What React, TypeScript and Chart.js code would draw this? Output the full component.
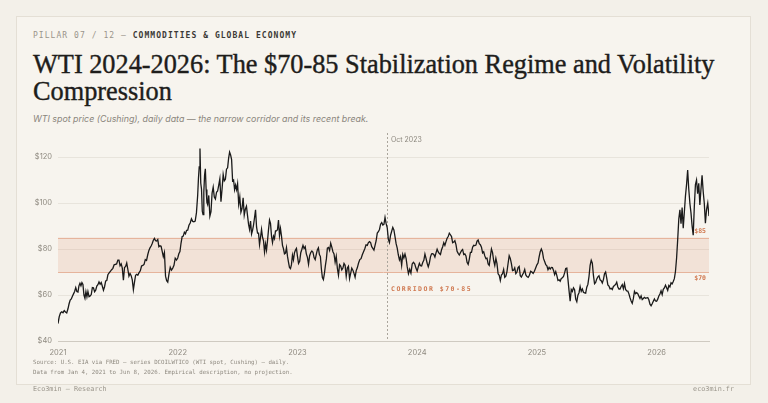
import React, { useEffect, useRef } from "react";
import { Chart, registerables } from "chart.js";

Chart.register(...registerables);

// ---------- DATA (WTI spot, $/bbl, ~twice-weekly samples, one sub-array per month) ----------
const yearStarts = [2021, 2022, 2023, 2024, 2025, 2026];

const wti2021: number[][] = [
  [47.6, 50.6, 52.2, 52.7, 52.3, 53.2, 52.6, 52.2],
  [54.0, 56.2, 57.8, 58.3, 59.5, 60.5, 61.5, 63.2, 61.5],
  [61.3, 64.0, 65.1, 64.0, 65.4, 64.6, 60.0, 58.6, 61.5, 59.2],
  [61.5, 59.3, 59.6, 60.2, 63.2, 63.1, 61.4, 62.1, 63.9],
  [64.5, 65.7, 64.7, 65.4, 63.8, 62.1, 63.6, 66.1, 66.3],
  [68.8, 69.6, 70.3, 71.0, 71.6, 73.1, 73.3, 73.5],
  [75.2, 75.2, 72.7, 73.5, 71.7, 66.4, 71.9, 72.4, 73.9],
  [71.2, 68.2, 69.3, 68.4, 66.6, 62.3, 65.6, 68.6, 69.0],
  [68.6, 69.7, 70.5, 72.6, 72.9, 73.3, 75.4, 75.0],
  [77.6, 79.4, 80.5, 81.3, 82.4, 83.8, 84.6, 83.6, 83.5],
  [84.1, 81.0, 81.4, 81.2, 79.0, 76.7, 78.5, 68.2, 66.2],
  [65.6, 69.2, 72.1, 70.8, 71.7, 72.9, 76.0, 75.2],
];

const wti2022: number[][] = [
  [76.1, 77.9, 78.9, 82.6, 85.4, 85.6, 87.3, 86.6, 88.1],
  [88.2, 90.3, 91.3, 93.1, 92.0, 91.8, 92.1, 95.7],
  [103.4, 110.6, 115.7, 123.7, 108.7, 106.0, 96.4, 95.0, 104.7, 112.1, 114.9, 105.9, 100.3],
  [99.3, 103.3, 94.3, 96.2, 104.3, 106.9, 102.6, 101.7, 104.7],
  [105.2, 107.8, 110.5, 100.6, 106.1, 112.4, 109.6, 110.3, 114.7],
  [115.3, 119.4, 122.1, 120.9, 118.9, 109.6, 110.0, 105.8, 107.8, 105.8],
  [108.4, 99.5, 102.7, 96.0, 97.6, 102.3, 94.7, 97.3, 98.6],
  [94.4, 90.7, 88.5, 92.1, 86.5, 88.1, 90.5, 93.7, 97.0, 89.6],
  [86.9, 86.9, 81.9, 85.1, 88.5, 85.1, 83.5, 78.7, 82.2, 79.5],
  [83.6, 88.4, 92.6, 91.1, 85.6, 82.8, 85.6, 84.5, 87.9, 87.9],
  [88.4, 92.6, 85.8, 88.9, 85.6, 81.6, 80.1, 77.9, 78.2, 80.6],
  [76.9, 74.3, 72.0, 71.5, 73.2, 77.3, 75.3, 78.3, 79.6, 80.3],
];

const wti2023: number[][] = [
  [76.9, 73.7, 74.6, 78.4, 79.9, 81.6, 80.2, 81.0, 77.9],
  [76.4, 73.4, 77.1, 78.5, 79.1, 78.6, 76.3, 75.4, 77.7],
  [79.7, 80.5, 77.6, 76.7, 71.3, 67.6, 66.7, 69.3, 72.8, 75.7],
  [80.4, 80.7, 79.4, 82.5, 80.8, 78.8, 77.9, 74.3, 76.8],
  [71.7, 68.6, 73.2, 72.6, 70.9, 71.7, 73.7, 72.9, 68.1],
  [71.7, 72.5, 67.1, 69.4, 71.7, 70.8, 69.4, 67.7, 70.6],
  [71.8, 73.9, 75.4, 75.8, 77.5, 78.8, 80.1, 81.8],
  [81.6, 82.8, 83.2, 82.8, 81.0, 80.3, 79.5, 81.6, 83.6],
  [86.9, 87.5, 88.5, 90.8, 91.5, 90.4, 90.7, 93.7, 91.0],
  [89.2, 84.2, 82.8, 86.0, 87.7, 89.4, 88.3, 85.4, 82.3],
  [80.4, 77.4, 75.3, 76.7, 72.9, 77.6, 76.1, 77.8, 75.9],
  [72.3, 69.3, 71.2, 69.5, 73.5, 74.2, 73.6, 71.7],
];

const wti2024: number[][] = [
  [70.4, 72.2, 73.8, 72.7, 72.6, 74.1, 75.1, 77.8, 75.9],
  [73.8, 72.3, 73.9, 76.6, 77.9, 78.0, 77.6, 76.5, 78.3],
  [79.9, 78.7, 78.0, 77.6, 79.7, 81.0, 82.7, 81.6, 83.2],
  [84.7, 85.4, 86.9, 86.2, 85.4, 82.7, 83.0, 83.6, 81.9],
  [79.0, 78.1, 77.4, 78.4, 79.3, 79.8, 77.6, 77.9, 77.0],
  [74.2, 73.3, 75.5, 78.5, 78.5, 80.8, 81.6, 81.5, 81.7],
  [83.4, 83.9, 82.3, 81.9, 80.8, 78.3, 78.8, 77.0, 75.8],
  [76.0, 73.5, 72.9, 76.7, 80.0, 78.4, 74.9, 72.9, 75.9],
  [73.6, 69.2, 68.6, 66.3, 68.7, 69.3, 71.1, 67.7, 68.2],
  [70.2, 73.7, 77.1, 75.9, 73.6, 70.6, 70.8, 71.8, 69.3],
  [70.0, 71.9, 72.4, 68.4, 67.8, 68.8, 69.7, 71.1, 68.7],
  [68.0, 67.7, 68.6, 70.3, 70.0, 69.4, 70.3, 71.7],
];

const wti2025: number[][] = [
  [73.1, 73.9, 76.6, 78.8, 80.0, 78.7, 75.8, 74.6, 73.2],
  [72.7, 71.0, 72.0, 71.3, 72.0, 71.9, 70.7, 68.9, 70.2],
  [68.4, 66.3, 66.6, 66.0, 67.2, 67.5, 68.1, 69.6, 71.5],
  [71.7, 66.9, 61.9, 57.3, 62.4, 61.6, 63.1, 62.3, 58.2],
  [57.1, 59.9, 61.0, 63.7, 61.6, 62.6, 61.2, 60.9, 60.8],
  [63.4, 64.6, 68.0, 72.9, 75.1, 73.8, 68.5, 64.9, 65.5],
  [67.0, 67.9, 68.4, 66.6, 66.2, 65.2, 66.7, 69.2, 70.0],
  [67.3, 64.4, 63.9, 62.7, 62.9, 62.4, 63.7, 64.1, 64.6],
  [65.6, 63.5, 62.6, 62.6, 63.7, 64.5, 62.7, 65.0, 62.4],
  [61.8, 61.7, 60.5, 58.8, 57.4, 56.4, 58.4, 61.6, 60.6],
  [61.0, 60.6, 59.5, 58.5, 59.6, 58.0, 58.5, 59.0, 58.6],
  [58.7, 58.9, 57.9, 56.0, 55.3, 56.2, 57.3, 58.3, 57.4],
];

const wti2026: number[][] = [
  [57.3, 58.2, 59.6, 60.4, 61.8, 60.2, 62.5, 63.1, 64.3],
  [63.2, 62.0, 64.1, 63.5, 65.3, 64.8, 65.9, 67.1, 70.2],
  [76.0, 84.0, 93.0, 97.0, 91.0, 98.0, 89.0, 96.0, 103.0],
  [108.0, 114.3, 106.0, 99.9, 95.7, 90.0, 86.0, 98.4, 108.0],
  [110.0, 104.0, 108.6, 99.1, 106.0, 112.0, 105.0, 99.9, 91.2],
  [97.0, 99.9, 94.3],
];

const wtiByYear = [wti2021, wti2022, wti2023, wti2024, wti2025, wti2026];

const yTickValues = [40, 60, 80, 100, 120];
const xTickYears = [2021, 2022, 2023, 2024, 2025, 2026];
const yMin = 40;
const yMax = 130;
const corridorLow = 70;
const corridorHigh = 85;
const markerValue = 2023 + 273 / 365; // 1 Oct 2023
const markerLabel = "Oct 2023";
const corridorLabel = "CORRIDOR $70-85";
const lastMonthSpan = 0.25; // series ends 8 Jun 2026

// ---------- build points ----------
const points: { x: number; y: number }[] = [];
wtiByYear.forEach((months, yi) => {
  const year = yearStarts[yi];
  months.forEach((vals, m) => {
    const isLast = yi === wtiByYear.length - 1 && m === months.length - 1;
    vals.forEach((v, k) => {
      const frac = isLast ? (k / (vals.length - 1)) * lastMonthSpan : k / vals.length;
      points.push({ x: year + (m + frac) / 12, y: v });
    });
  });
});
const xMax = points[points.length - 1].x;

const ORANGE = "#d07a52";

const overlayPlugin = {
  id: "overlay",
  beforeDatasetsDraw(chart: any) {
    const { ctx, chartArea: a, scales } = chart;
    const x = scales.x;
    const y = scales.y;
    const yh = y.getPixelForValue(corridorHigh);
    const yl = y.getPixelForValue(corridorLow);
    ctx.save();
    ctx.fillStyle = "rgba(210,120,80,0.14)";
    ctx.fillRect(a.left, yh, a.right - a.left, yl - yh);
    ctx.strokeStyle = "#e6b49c";
    ctx.lineWidth = 1;
    ctx.beginPath();
    ctx.moveTo(a.left, Math.round(yh) + 0.5);
    ctx.lineTo(a.right, Math.round(yh) + 0.5);
    ctx.moveTo(a.left, Math.round(yl) + 0.5);
    ctx.lineTo(a.right, Math.round(yl) + 0.5);
    ctx.stroke();
    const mx = Math.round(x.getPixelForValue(markerValue)) + 0.5;
    ctx.strokeStyle = "#aaa59c";
    ctx.setLineDash([2, 2]);
    ctx.beginPath();
    ctx.moveTo(mx, a.top - 1);
    ctx.lineTo(mx, a.bottom);
    ctx.stroke();
    ctx.restore();
  },
  afterDatasetsDraw(chart: any) {
    const { ctx, chartArea: a, scales } = chart;
    const x = scales.x;
    const y = scales.y;
    const yh = y.getPixelForValue(corridorHigh);
    const yl = y.getPixelForValue(corridorLow);
    const mx = x.getPixelForValue(markerValue);
    ctx.save();
    ctx.textBaseline = "middle";
    ctx.textAlign = "left";
    ctx.fillStyle = "#8c877e";
    ctx.font = "7px Inter";
    ctx.fillText(markerLabel, mx + 4, a.top + 6);
    ctx.fillStyle = ORANGE;
    ctx.font = "bold 6.5px 'DejaVu Sans Mono'";
    (ctx as any).letterSpacing = "1.5px";
    ctx.fillText(corridorLabel, mx + 4, yl + 17);
    (ctx as any).letterSpacing = "0px";
    ctx.textAlign = "right";
    ctx.font = "bold 6.5px 'DejaVu Sans Mono'";
    ctx.fillText("$" + corridorHigh, a.right - 3, yh - 6);
    ctx.fillText("$" + corridorLow, a.right - 3, yl + 6);
    ctx.restore();
  },
};

function WtiChart() {
  const ref = useRef<HTMLCanvasElement | null>(null);
  useEffect(() => {
    if (!ref.current) return;
    const chart = new Chart(ref.current, {
      type: "line",
      data: {
        datasets: [
          {
            data: points,
            borderColor: "#1a1a1a",
            borderWidth: 1.3,
            pointRadius: 0,
            tension: 0,
            fill: false,
          },
        ],
      },
      options: {
        animation: false,
        responsive: false,
        devicePixelRatio: 1,
        parsing: false as any,
        layout: { padding: { top: 134, right: 59, bottom: 42, left: 0 } },
        plugins: { legend: { display: false }, tooltip: { enabled: false } },
        scales: {
          x: {
            type: "linear",
            min: 2021,
            max: xMax,
            afterBuildTicks: (s: any) => {
              s.ticks = xTickYears.map((v) => ({ value: v }));
            },
            afterFit: (s: any) => {
              s.height = 20;
            },
            ticks: {
              callback: (v: any) => String(v),
              color: "#8f8a80",
              font: { family: "Inter", size: 7.5 },
              padding: 7,
              maxRotation: 0,
              autoSkip: false,
            },
            grid: { display: false, drawTicks: false },
            border: { display: true, color: "#cfcac1", width: 1 },
          },
          y: {
            type: "linear",
            min: yMin,
            max: yMax,
            afterBuildTicks: (s: any) => {
              s.ticks = yTickValues.map((v) => ({ value: v }));
            },
            afterFit: (s: any) => {
              s.width = 58;
            },
            ticks: {
              callback: (v: any) => "$" + v,
              color: "#8f8a80",
              font: { family: "Inter", size: 7.5 },
              padding: 6,
            },
            grid: { color: "#e8e4dc", drawTicks: false, lineWidth: 1 },
            border: { display: false },
          },
        },
      },
      plugins: [overlayPlugin],
    });
    return () => chart.destroy();
  }, []);
  return (
    <canvas
      ref={ref}
      width={768}
      height={403}
      style={{ position: "absolute", left: 0, top: 0, width: 768, height: 403 }}
    />
  );
}

export default function App() {
  const mono = "'DejaVu Sans Mono', 'Liberation Mono', monospace";
  return (
    <div
      style={{
        position: "fixed",
        left: 0,
        top: 0,
        width: 768,
        height: 403,
        background: "#f3f0e9",
        overflow: "hidden",
      }}
    >
      <div
        style={{
          position: "absolute",
          left: 16,
          top: 16,
          width: 735,
          height: 369,
          boxSizing: "border-box",
          border: "1px solid #e4dfd5",
          background: "#f7f4ee",
        }}
      />
      <div
        style={{
          position: "absolute",
          left: 33,
          top: 31,
          fontFamily: mono,
          fontSize: 8,
          lineHeight: "10px",
          letterSpacing: 1.05,
          whiteSpace: "nowrap",
          color: "#9a958b",
        }}
      >
        PILLAR 07 / 12 —{" "}
        <span style={{ color: "#3c3a36", fontWeight: 700 }}>COMMODITIES &amp; GLOBAL ECONOMY</span>
      </div>
      <div
        style={{
          position: "absolute",
          left: 33,
          top: 51,
          fontFamily: "'Liberation Serif', serif",
          fontSize: 26.3,
          lineHeight: "27px",
          color: "#1e1d1b",
          whiteSpace: "nowrap",
          WebkitTextStroke: "0.4px #1e1d1b",
        }}
      >
        WTI 2024-2026: The $70-85 Stabilization Regime and Volatility
        <br />
        Compression
      </div>
      <div
        style={{
          position: "absolute",
          left: 33,
          top: 113,
          fontFamily: "Inter, sans-serif",
          fontStyle: "italic",
          fontSize: 8.85,
          lineHeight: "12px",
          color: "#8a857c",
          whiteSpace: "nowrap",
        }}
      >
        WTI spot price (Cushing), daily data — the narrow corridor and its recent break.
      </div>
      <WtiChart />
      <div
        style={{
          position: "absolute",
          left: 33,
          top: 357,
          fontFamily: mono,
          fontSize: 5.75,
          lineHeight: "10px",
          color: "#8f8a80",
          whiteSpace: "nowrap",
        }}
      >
        Source: U.S. EIA via FRED — series DCOILWTICO (WTI spot, Cushing) — daily.
        <br />
        Data from Jan 4, 2021 to Jun 8, 2026. Empirical description, no projection.
      </div>
      <div
        style={{
          position: "absolute",
          left: 33,
          top: 384,
          fontFamily: mono,
          fontSize: 6.8,
          lineHeight: "10px",
          color: "#9a958b",
          whiteSpace: "nowrap",
        }}
      >
        Eco3min — Research
      </div>
      <div
        style={{
          position: "absolute",
          right: 34,
          top: 384,
          fontFamily: mono,
          fontSize: 6.8,
          lineHeight: "10px",
          color: "#9a958b",
          whiteSpace: "nowrap",
        }}
      >
        eco3min.fr
      </div>
    </div>
  );
}
